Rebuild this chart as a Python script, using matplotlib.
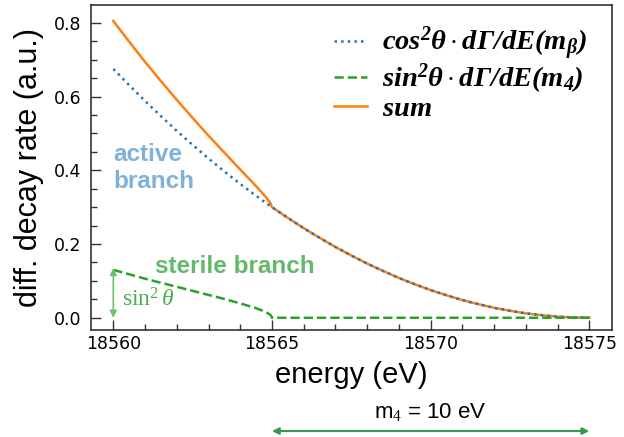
import matplotlib
matplotlib.use("Agg")
import matplotlib.pyplot as plt
from matplotlib.ticker import MultipleLocator
import numpy as np

plt.rcParams["mathtext.fontset"] = "custom"
plt.rcParams["mathtext.rm"] = "Liberation Serif"
plt.rcParams["mathtext.it"] = "Liberation Serif:italic"
plt.rcParams["mathtext.bf"] = "Liberation Serif:bold:italic"

# values
energy = [18560.0, 18560.5, 18561.0, 18561.5, 18562.0, 18562.5, 18563.0, 18563.5,
          18564.0, 18564.5, 18564.8, 18564.95, 18565.0, 18565.5, 18566.0, 18566.5,
          18567.0, 18567.5, 18568.0, 18568.5, 18569.0, 18569.5, 18570.0, 18570.5,
          18571.0, 18571.5, 18572.0, 18572.5, 18573.0, 18573.5, 18574.0, 18574.5,
          18575.0]
active = [0.675, 0.631, 0.588, 0.547, 0.507, 0.469, 0.432, 0.397,
          0.363, 0.331, 0.312, 0.303, 0.300, 0.271, 0.243, 0.217,
          0.192, 0.169, 0.147, 0.127, 0.108, 0.091, 0.075, 0.061,
          0.048, 0.037, 0.027, 0.019, 0.012, 0.007, 0.003, 0.001,
          0.0]
sterile = [0.130, 0.118, 0.106, 0.095, 0.084, 0.073, 0.062, 0.051,
           0.039, 0.026, 0.016, 0.008, 0.0, 0.0, 0.0, 0.0,
           0.0, 0.0, 0.0, 0.0, 0.0, 0.0, 0.0, 0.0,
           0.0, 0.0, 0.0, 0.0, 0.0, 0.0, 0.0, 0.0,
           0.0]
total = np.array(active) + np.array(sterile)

labels = [r"$\mathbf{cos^2\theta \cdot d\Gamma/dE(m_\beta)}$",
          r"$\mathbf{sin^2\theta \cdot d\Gamma/dE(m_4)}$",
          r"$\mathbf{sum}$"]

m4_start, m4_end = 18565, 18575

BLUE = "#1f77b4"
GREEN = "#2ca02c"
ORANGE = "#ff7f0e"

fig = plt.figure(figsize=(6.24, 4.37), dpi=100)
ax = fig.add_axes([0.146, 0.245, 0.835, 0.744])

# sum goes underneath so the branches show on top of it
ax.plot(energy, active, ls=":", color=BLUE, lw=1.8, label=labels[0], zorder=3)
ax.plot(energy, sterile, ls="--", color=GREEN, lw=1.8, label=labels[1], zorder=3)
ax.plot(energy, total, ls="-", color=ORANGE, lw=1.8, label=labels[2], zorder=2)

ax.set_xlim(18559.3, 18575.72)
ax.set_ylim(-0.033, 0.849)
ax.xaxis.set_major_locator(MultipleLocator(5))
ax.xaxis.set_minor_locator(MultipleLocator(1))
ax.yaxis.set_major_locator(MultipleLocator(0.2))
ax.yaxis.set_minor_locator(MultipleLocator(0.05))
ax.tick_params(which="both", direction="in", colors="#333333", labelcolor="black", labelsize=12.5)
ax.tick_params(which="major", length=7, width=1)
ax.tick_params(which="minor", length=4, width=1)
ax.tick_params(axis="y", pad=7)
for sp in ax.spines.values():
    sp.set_color("#333333")
    sp.set_linewidth(1.2)

ax.set_xlabel("energy (eV)", family="Liberation Sans", fontsize=21, labelpad=6)
ax.set_ylabel("diff. decay rate (a.u.)", family="Liberation Sans", fontsize=22, labelpad=7)

leg = ax.legend(loc="upper right", frameon=False, fontsize=20.5, handlelength=1.15,
                handletextpad=0.55, bbox_to_anchor=(0.985, 0.99), labelspacing=-0.06,
                borderaxespad=0.2)

ax.text(18560, 0.474, "active\nbranch", family="Liberation Sans", weight="bold",
        fontsize=17.5, color="#7fb2d6", ha="left", va="top")
ax.text(18561.32, 0.122, "sterile branch", family="Liberation Sans", weight="bold",
        fontsize=17.5, color="#63b96a", ha="left", va="baseline")

ax.annotate("", xy=(18560, 0.0), xytext=(18560, 0.135),
            arrowprops=dict(arrowstyle="<|-|>", color="#6cc26c", lw=1.2, mutation_scale=10,
                            shrinkA=0, shrinkB=0))
ax.text(18560.27, 0.05, r"$\mathrm{sin}^2\,\theta$", fontsize=17, color="#4caf50",
        ha="left", va="center")

trans = ax.get_xaxis_transform()
ax.annotate("", xy=(m4_start, -0.311), xytext=(m4_end, -0.311), xycoords=trans, textcoords=trans,
            arrowprops=dict(arrowstyle="<|-|>", color="#3a9a4a", lw=1.5, mutation_scale=10,
                            shrinkA=0, shrinkB=0), annotation_clip=False)
ax.text((m4_start + m4_end) / 2, -0.252, r"m$_4$ = 10 eV", transform=trans,
        family="Liberation Sans", fontsize=16, ha="center", va="center")

fig.savefig("out.png", dpi=100)
